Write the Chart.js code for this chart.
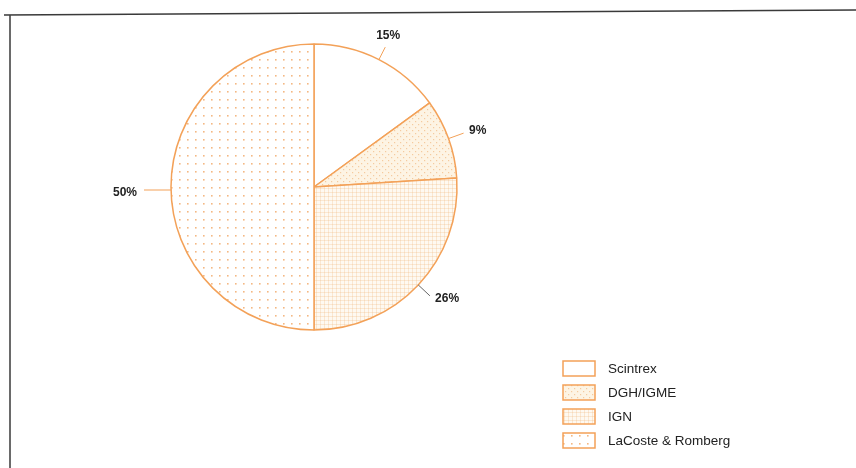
<!DOCTYPE html>
<html>
<head>
<meta charset="utf-8">
<script src="https://cdn.jsdelivr.net/npm/chart.js@4"></script>
<style>
  html, body { margin: 0; padding: 0; background: #fff; }
  #wrap { position: relative; width: 856px; height: 468px; }
</style>
</head>
<body>
<div id="wrap"><canvas id="c" width="856" height="468"></canvas></div>
<script>
// ---- data ----
const categories = ['Scintrex', 'DGH/IGME', 'IGN', 'LaCoste & Romberg'];
const shares = [15, 9, 26, 50];
const valueLabels = ['15%', '9%', '26%', '50%'];

// ---- styles ----
const ORANGE = '#f3a158';
function makePattern(bg, size, draw) {
  const c = document.createElement('canvas');
  c.width = c.height = size;
  const x = c.getContext('2d');
  x.fillStyle = bg; x.fillRect(0, 0, size, size);
  if (draw) draw(x);
  return x.createPattern(c, 'repeat');
}
const fills = [
  '#ffffff',
  makePattern('#fdf4e4', 6, x => { x.fillStyle = 'rgba(238,170,100,0.55)'; x.fillRect(1, 1, 1.2, 1.2); x.fillRect(4, 4, 1.2, 1.2); }),
  makePattern('#fef9f1', 4, x => { x.fillStyle = 'rgba(240,175,110,0.3)'; x.fillRect(0, 0, 4, 0.8); x.fillRect(0, 0, 0.8, 4); }),
  makePattern('#ffffff', 8, x => { x.fillStyle = 'rgba(240,160,90,0.75)'; x.fillRect(3, 3, 1.6, 1.6); })
];
const leaderEnd = [14, 16, 16, 27];
const labelGap = [27, 31, 30, 46];
const labelShift = [[-3, 0], [0, 3], [7, -7], [0, 6]];
const leaderColors = [ORANGE, ORANGE, '#666', ORANGE];

const overlay = {
  id: 'overlay',
  beforeDraw(chart) {
    const ctx = chart.ctx;
    ctx.save();
    ctx.strokeStyle = '#3a3a3a';
    ctx.lineWidth = 1.5;
    ctx.beginPath();
    ctx.moveTo(4, 15); ctx.lineTo(856, 10);
    ctx.moveTo(10, 15); ctx.lineTo(10, 468);
    ctx.stroke();
    ctx.restore();
  },
  afterDraw(chart) {
    const ctx = chart.ctx;
    const meta = chart.getDatasetMeta(0);
    ctx.save();
    ctx.font = 'bold 12px "Liberation Sans", Arial, sans-serif';
    ctx.fillStyle = '#222';
    ctx.textAlign = 'center';
    ctx.textBaseline = 'middle';
    meta.data.forEach((arc, i) => {
      const p = arc.getProps(['x', 'y', 'startAngle', 'endAngle', 'outerRadius'], true);
      const a = (p.startAngle + p.endAngle) / 2;
      const r = p.outerRadius;
      const cos = Math.cos(a), sin = Math.sin(a);
      const dy = i === 3 ? 3 : 0;
      ctx.strokeStyle = leaderColors[i];
      ctx.lineWidth = 1;
      ctx.beginPath();
      ctx.moveTo(p.x + cos * r, p.y + sin * r + dy);
      ctx.lineTo(p.x + cos * (r + leaderEnd[i]), p.y + sin * (r + leaderEnd[i]) + dy);
      ctx.stroke();
      ctx.fillText(valueLabels[i],
        p.x + cos * (r + labelGap[i]) + labelShift[i][0],
        p.y + sin * (r + labelGap[i]) + labelShift[i][1]);
    });
    // legend
    ctx.textAlign = 'left';
    ctx.font = '13.5px "Liberation Sans", Arial, sans-serif';
    categories.forEach((name, i) => {
      const top = 361 + i * 24;
      ctx.fillStyle = fills[i];
      ctx.fillRect(563, top, 32, 15);
      ctx.strokeStyle = ORANGE;
      ctx.lineWidth = 1.5;
      ctx.strokeRect(563, top, 32, 15);
      ctx.fillStyle = '#222';
      ctx.fillText(name, 608, top + 8);
    });
    ctx.restore();
  }
};

new Chart(document.getElementById('c'), {
  type: 'pie',
  data: {
    labels: categories,
    datasets: [{
      data: shares,
      backgroundColor: fills,
      borderColor: ORANGE,
      borderWidth: 1.5,
      borderAlign: 'center'
    }]
  },
  options: {
    responsive: false,
    animation: false,
    layout: { padding: { left: 170.25, right: 398.25, top: 43.25, bottom: 137.25 } },
    plugins: { legend: { display: false }, tooltip: { enabled: false } }
  },
  plugins: [overlay]
});
</script>
</body>
</html>
